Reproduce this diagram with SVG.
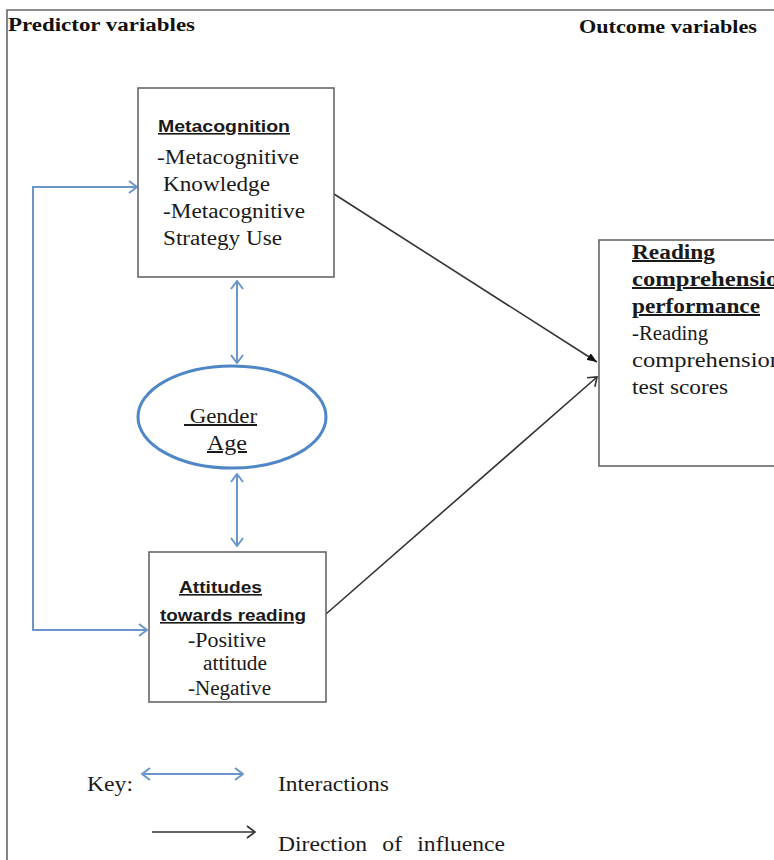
<svg xmlns="http://www.w3.org/2000/svg" width="774" height="860" viewBox="0 0 774 860">
<style>
.bg{fill:#fff}
.box{fill:#fff;stroke:#666;stroke-width:1.6}
.frame{fill:none;stroke:#666;stroke-width:1.6}
.ell{fill:#fff;stroke:#4f86c6;stroke-width:3}
.blue{fill:none;stroke:#6a96cc;stroke-width:2}
.blk{fill:none;stroke:#333;stroke-width:1.6}
.hd{font-family:"Liberation Serif",serif;font-weight:bold;font-size:18px;fill:#111}
.sr{font-family:"Liberation Serif",serif;font-size:20px;fill:#1a1a1a}
.srb{font-family:"Liberation Serif",serif;font-weight:bold;font-size:20px;fill:#1a1a1a;text-decoration:underline}
.sn{font-family:"Liberation Sans",sans-serif;font-weight:bold;font-size:16px;fill:#1a1a1a;text-decoration:underline}
.ul{text-decoration:underline}
</style>
<defs>
<marker id="bh" viewBox="0 0 10 14" refX="9" refY="7" markerWidth="10" markerHeight="14" markerUnits="userSpaceOnUse" orient="auto-start-reverse">
<path d="M1,1 L9,7 L1,13" fill="none" stroke="#6a96cc" stroke-width="2"/>
</marker>
<marker id="kh" viewBox="0 0 10 14" refX="9" refY="7" markerWidth="10" markerHeight="14" markerUnits="userSpaceOnUse" orient="auto">
<path d="M1,1 L9,7 L1,13" fill="none" stroke="#333" stroke-width="1.6"/>
</marker>
<marker id="kt" viewBox="0 0 10 8" refX="10" refY="4" markerWidth="10" markerHeight="8" markerUnits="userSpaceOnUse" orient="auto">
<path d="M0,0 L10,4 L0,8 Z" fill="#111"/>
</marker>
</defs>
<rect class="bg" x="0" y="0" width="774" height="860"/>
<path class="frame" d="M7,860 V10 H774"/>
<text class="hd" x="8" y="31" textLength="187" lengthAdjust="spacingAndGlyphs">Predictor variables</text>
<text class="hd" x="579" y="33" textLength="178" lengthAdjust="spacingAndGlyphs">Outcome variables</text>

<g id="connectors">
<path class="blue" d="M33,187 H137" marker-end="url(#bh)"/>
<path class="blue" d="M33,186 V630 H147" marker-end="url(#bh)"/>
<path class="blue" d="M237,281 V363" marker-start="url(#bh)" marker-end="url(#bh)"/>
<path class="blue" d="M237,474 V546" marker-start="url(#bh)" marker-end="url(#bh)"/>
<path class="blk" d="M334,194 L597,362" marker-end="url(#kt)"/>
<path class="blk" d="M326,614 L597,377" marker-end="url(#kh)"/>
</g>

<g id="metacognition">
<rect class="box" x="138" y="88" width="196" height="189"/>
<text class="sn" x="158" y="132" textLength="132" lengthAdjust="spacingAndGlyphs">Metacognition</text>
<text class="sr" x="157" y="164" textLength="142" lengthAdjust="spacingAndGlyphs">-Metacognitive</text>
<text class="sr" x="163" y="191" textLength="107" lengthAdjust="spacingAndGlyphs">Knowledge</text>
<text class="sr" x="163" y="218" textLength="142" lengthAdjust="spacingAndGlyphs">-Metacognitive</text>
<text class="sr" x="163" y="245" textLength="119" lengthAdjust="spacingAndGlyphs">Strategy Use</text>
</g>

<g id="gender-age">
<ellipse class="ell" cx="232" cy="417" rx="94" ry="51"/>
<text class="sr ul" x="184" y="423" textLength="73" lengthAdjust="spacingAndGlyphs" xml:space="preserve"> Gender</text>
<text class="sr ul" x="207" y="450" textLength="40" lengthAdjust="spacingAndGlyphs">Age</text>
</g>

<g id="attitudes">
<rect class="box" x="149" y="552" width="177" height="150"/>
<text class="sn" x="179" y="593" textLength="83" lengthAdjust="spacingAndGlyphs">Attitudes</text>
<text class="sn" x="160" y="621" textLength="146" lengthAdjust="spacingAndGlyphs">towards reading</text>
<text class="sr" x="188" y="647" textLength="78" lengthAdjust="spacingAndGlyphs">-Positive</text>
<text class="sr" x="203" y="670" textLength="64" lengthAdjust="spacingAndGlyphs">attitude</text>
<text class="sr" x="188" y="695" textLength="83" lengthAdjust="spacingAndGlyphs">-Negative</text>
</g>

<g id="reading-performance">
<rect class="box" x="599" y="240" width="190" height="226"/>
<text class="srb" x="632" y="259" textLength="83" lengthAdjust="spacingAndGlyphs">Reading</text>
<text class="srb" x="632" y="286" textLength="160" lengthAdjust="spacingAndGlyphs">comprehension</text>
<text class="srb" x="632" y="313" textLength="128" lengthAdjust="spacingAndGlyphs">performance</text>
<text class="sr" x="632" y="340" textLength="76" lengthAdjust="spacingAndGlyphs">-Reading</text>
<text class="sr" x="632" y="367" textLength="150" lengthAdjust="spacingAndGlyphs">comprehension</text>
<text class="sr" x="632" y="394" textLength="96" lengthAdjust="spacingAndGlyphs">test scores</text>
</g>

<g id="key">
<text class="sr" x="87" y="791" textLength="46" lengthAdjust="spacingAndGlyphs">Key:</text>
<path class="blue" d="M142,774 H243" marker-start="url(#bh)" marker-end="url(#bh)"/>
<text class="sr" x="278" y="791" textLength="111" lengthAdjust="spacingAndGlyphs">Interactions</text>
<path class="blk" d="M152,832 H255" marker-end="url(#kh)"/>
<text class="sr" x="278" y="851" textLength="227" lengthAdjust="spacingAndGlyphs" word-spacing="8">Direction of influence</text>
</g>
</svg>
